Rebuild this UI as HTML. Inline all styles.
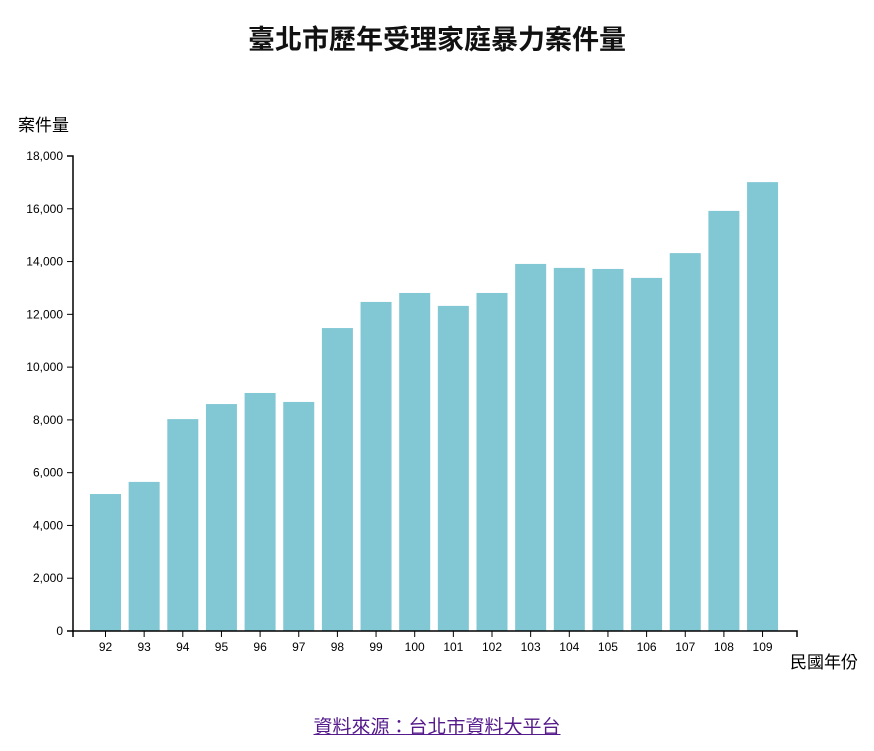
<!DOCTYPE html>
<html><head><meta charset="utf-8"><style>
body{margin:0;background:#fff;width:874px;height:751px;overflow:hidden;font-family:"Liberation Sans","Noto Sans CJK TC",sans-serif}
#title{position:absolute;top:18px;left:0;width:874px;text-align:center;font-size:27px;font-weight:bold;color:#111}
#src{position:absolute;top:712px;left:0;width:874px;text-align:center;font-size:19px;color:#551a8b;text-decoration:underline}
svg{position:absolute;left:0;top:0}
</style></head><body>
<div id="title">臺北市歷年受理家庭暴力案件量</div>
<svg id="c" width="874" height="751"></svg>
<a id="src">資料來源：台北市資料大平台</a>
<script>
const categories=["92","93","94","95","96","97","98","99","100","101","102","103","104","105","106","107","108","109"];
const values=[5190,5650,8030,8600,9020,8680,11480,12470,12810,12320,12810,13910,13760,13720,13380,14320,15920,17010];
const yTicks=[0,2000,4000,6000,8000,10000,12000,14000,16000,18000];
const NS="http://www.w3.org/2000/svg",svg=document.getElementById('c');
const y0=631,y1=156,yMax=18000,xL=73,xR=797,bx0=90,step=38.65,bw=31;
const y=v=>y0-(v/yMax)*(y0-y1);
const x=i=>bx0+i*step;
function mk(t,a,txt){const e=document.createElementNS(NS,t);for(const k in a)e.setAttribute(k,a[k]);if(txt!=null)e.textContent=txt;svg.appendChild(e);return e;}
values.forEach((v,i)=>{const r=mk('rect',{x:x(i),y:y(v),width:bw,height:y0-y(v),fill:'#82c7d4'});

});
const ya=mk('path',{d:`M67,${y1}H73V${y0}H67`,stroke:'#000',fill:'none','stroke-width':1.5});


yTicks.forEach(t=>{mk('line',{x1:67,x2:73,y1:y(t),y2:y(t),stroke:'#000'});
const l=mk('text',{x:63,y:y(t)+4,'text-anchor':'end','font-size':12,fill:'#000'},t.toLocaleString('en-US'));

});
const xa=mk('path',{d:`M${xL},${y0+6}V${y0}H${xR}V${y0+6}`,stroke:'#000',fill:'none','stroke-width':1.5});


categories.forEach((c,i)=>{const cx=x(i)+bw/2;mk('line',{x1:cx,x2:cx,y1:y0,y2:y0+6,stroke:'#000'});
const l=mk('text',{x:cx,y:y0+20,'text-anchor':'middle','font-size':12,fill:'#000'},c);

});
const yt=mk('text',{x:18,y:131,'font-size':17,fill:'#000'},'案件量');


const xt=mk('text',{x:790,y:668,'font-size':17,fill:'#000'},'民國年份');


</script>
</body></html>
